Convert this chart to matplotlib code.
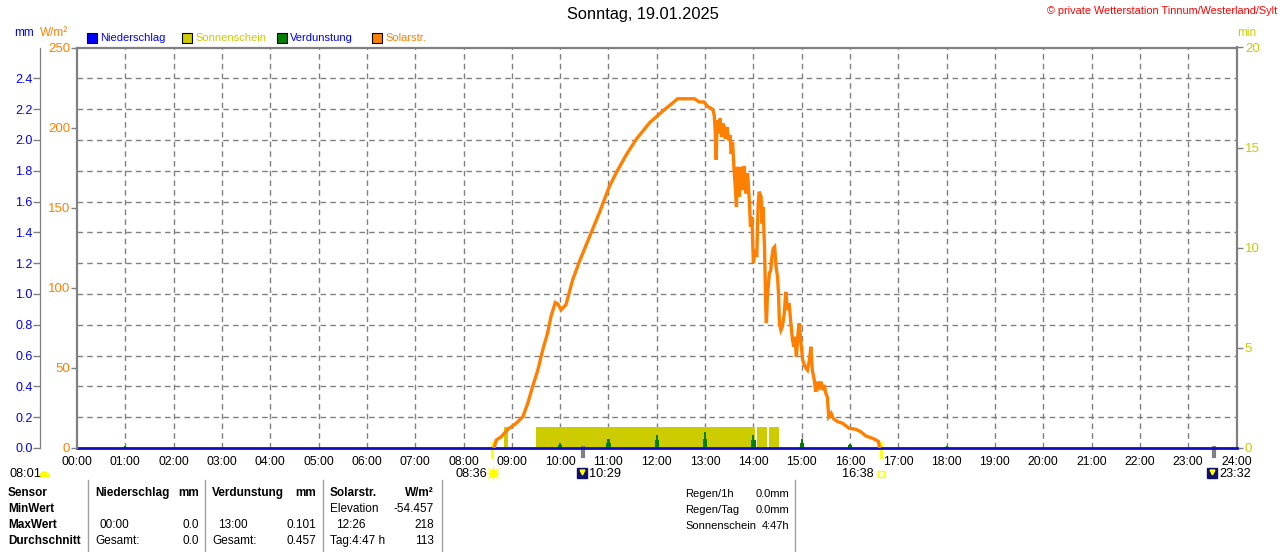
import matplotlib
matplotlib.use("Agg")
import matplotlib.pyplot as plt
import matplotlib.transforms as mtrans
from matplotlib.patches import Wedge

plt.rcParams['font.family'] = ['Liberation Sans', 'DejaVu Sans']
plt.rcParams['font.size'] = 8

# --- Daten ---
# Solarstrahlung W/m² (Stunde, Wert)
solar_t = [8.63, 8.66, 8.68, 8.78, 8.92, 9.09, 9.23, 9.33, 9.43, 9.54, 9.64, 9.74, 9.81,
           9.90, 9.95, 10.02, 10.12, 10.26, 10.40, 10.61, 10.81, 11.02, 11.16, 11.37,
           11.57, 11.85, 12.12, 12.33, 12.43, 12.78, 12.88, 12.98, 13.05, 13.16, 13.19,
           13.21, 13.23, 13.25, 13.28, 13.31, 13.35, 13.38, 13.42, 13.45, 13.49, 13.52,
           13.54, 13.57, 13.60, 13.63, 13.65, 13.67, 13.71, 13.74, 13.78, 13.81, 13.85,
           13.88, 13.92, 13.94, 13.97, 14.00, 14.04, 14.07, 14.10, 14.12, 14.16, 14.18,
           14.20, 14.23, 14.26, 14.27, 14.29, 14.33, 14.36, 14.38, 14.41, 14.44, 14.47,
           14.50, 14.52, 14.54, 14.57, 14.60, 14.64, 14.67, 14.71, 14.74, 14.77, 14.81,
           14.84, 14.86, 14.89, 14.93, 14.95, 14.98, 15.02, 15.07, 15.12, 15.16, 15.19,
           15.22, 15.26, 15.29, 15.33, 15.36, 15.40, 15.43, 15.47, 15.50, 15.53, 15.56,
           15.61, 15.65, 15.74, 15.85, 15.98, 16.12, 16.22, 16.33, 16.47, 16.54, 16.59,
           16.61]
solar_v = [0, 3, 5, 7, 11.7, 15.4, 19.6, 27.9, 38.3, 48.8, 61.3, 71.7, 82,
           90.8, 90, 86.3, 89.4, 105, 116.5, 132, 146.7, 163.3, 171.7, 183.1,
           192.5, 203, 210.2, 215.4, 218, 218, 216, 216, 213.3, 211.3, 207.7,
           198, 180, 204.6, 196.4, 205.7, 194.2, 202.5, 193.2, 200.4, 192, 195.3,
           183.6, 191, 173.4, 161, 150.5, 175.5, 156.8, 175.5, 161, 176, 158.9,
           171.4, 152.7, 138, 144.3, 115.6, 123.5, 119.3, 152.7, 160, 156.8, 140.2,
           150.5, 125.6, 84, 78, 94.6, 109, 111, 118.3, 124.6, 125.6, 113.1,
           106.9, 96.5, 77.8, 73.6, 75.7, 84, 97.5, 86.1, 90.3, 79.9, 67.4,
           63.3, 69.4, 57, 73.6, 77.8, 67.4, 54.9, 50.7, 48.7, 54.9, 63.2,
           48.7, 42.4, 35.1, 41.4, 38.2, 41.4, 36.2, 39.3, 34.1, 32, 19.5,
           21.7, 18.5, 16.5, 15.4, 12.3, 11.7, 10.2, 7.5, 6, 5, 4,
           0]

# Sonnenschein (min) - Intervalle
sun_start = [8.83, 9.50, 14.07, 14.33]
sun_end = [8.93, 14.04, 14.28, 14.54]
sun_min = [1.07, 1.07, 1.07, 1.07]

# Verdunstung mm
evap_t = [1, 10, 11, 12, 13, 14, 15, 16, 18]
evap_v = [0.015, 0.034, 0.056, 0.086, 0.101, 0.086, 0.056, 0.028, 0.015]

# Niederschlag mm
rain_t = [0, 24]
rain_v = [0.0, 0.0]

hours = list(range(25))
hour_labels = ["%02d:00" % h for h in hours]
mm_ticks = [0.0, 0.2, 0.4, 0.6, 0.8, 1.0, 1.2, 1.4, 1.6, 1.8, 2.0, 2.2, 2.4]
w_ticks = [0, 50, 100, 150, 200, 250]
min_ticks = [0, 5, 10, 15, 20]

sunrise, sunset = 8.6, 16.633
moon_events = [10.483, 23.533]

W, H = 1280, 552
GRAY = '#808080'
ORANGE = '#ff8000'
YELLOW = '#cccc00'
BLUE = '#0000ff'
GREEN = '#008000'

fig = plt.figure(figsize=(12.8, 5.52), dpi=100)
rect = [77 / W, 1 - 448 / H, (1236.5 - 77) / W, (448 - 47.5) / H]

ax_min = fig.add_axes(rect)
ax_mm = ax_min.twinx()
ax_w = ax_min.twinx()
ax_min.set_zorder(1)
ax_mm.set_zorder(2)
ax_w.set_zorder(3)
ax_mm.patch.set_visible(False)
ax_w.patch.set_visible(False)

ax_min.set_xlim(0, 24)
ax_min.set_ylim(0, 20)
ax_mm.set_ylim(0, 2.6)
ax_w.set_ylim(0, 250)

# Gitter
ax_min.set_xticks(hours)
ax_min.set_xticklabels(hour_labels)
ax_min.tick_params(axis='x', length=0, pad=6, labelsize=8.8)
for h in hours[1:-1]:
    ax_min.axvline(h, color=GRAY, lw=1, ls=(0, (4, 3)), zorder=0)
for v in mm_ticks[1:]:
    ax_mm.axhline(v, color=GRAY, lw=1, ls=(0, (4, 3)), zorder=0)

# Sonnenschein
ax_min.bar(sun_start, sun_min, width=[e - s for s, e in zip(sun_start, sun_end)],
           align='edge', color=YELLOW, lw=0, zorder=2)
ax_min.yaxis.tick_right()
ax_min.set_yticks(min_ticks)
ax_min.tick_params(axis='y', colors=GRAY, labelcolor=YELLOW, length=4, width=1,
                   pad=2, labelsize=9.5)

# Verdunstung + Niederschlag
ax_mm.bar(evap_t, evap_v, width=0.045, color=GREEN, lw=0, zorder=3)
ax_mm.bar(evap_t, [v * 0.6 for v in evap_v], width=0.09, color=GREEN, lw=0, zorder=3)
ax_mm.plot(rain_t, rain_v, color='#1010c0', lw=2, zorder=4, clip_on=False)
ax_mm.yaxis.tick_left()
ax_mm.set_yticks(mm_ticks)
ax_mm.set_yticklabels(["%.1f" % v for v in mm_ticks])
ax_mm.tick_params(axis='y', colors=GRAY, labelcolor=BLUE, length=5, width=1,
                  pad=0.5, labelsize=9)
ax_mm.spines['left'].set_position(('outward', 26.6))
ax_mm.spines['left'].set_color(GRAY)
ax_mm.spines['left'].set_linewidth(0.9)
for s in ['right', 'top', 'bottom']:
    ax_mm.spines[s].set_visible(False)

# Solarstrahlung
ax_w.plot(solar_t, solar_v, color=ORANGE, lw=2.4, solid_joinstyle='miter', zorder=5)
ax_w.yaxis.tick_left()
ax_w.set_yticks(w_ticks)
ax_w.tick_params(axis='y', colors=GRAY, labelcolor=ORANGE, length=4, width=1,
                 pad=1, labelsize=9.5)
for s in ['right', 'top', 'bottom']:
    ax_w.spines[s].set_visible(False)
ax_w.spines['left'].set_color(GRAY)
ax_w.spines['left'].set_linewidth(1.6)

for s in ['left', 'top', 'right', 'bottom']:
    ax_min.spines[s].set_color(GRAY)
    ax_min.spines[s].set_linewidth(1.6)
ax_min.spines['left'].set_visible(False)
ax_min.spines['bottom'].set_linewidth(1)

# Ereignisse unter der Achse (Sonnenauf-/untergang, Mond)
blend = mtrans.blended_transform_factory(ax_min.transData, mtrans.IdentityTransform())
for t in [sunrise, sunset]:
    ax_min.plot([t, t], [H - 443, H - 457], color='#ffff00', lw=2,
                transform=blend, clip_on=False, zorder=6)
for t in moon_events:
    ax_min.plot([t, t], [H - 448, H - 456], color=GRAY, lw=3,
                transform=blend, clip_on=False, zorder=6)

ax_min.plot([sunrise + 0.01], [H - 473], marker='o', ms=5, color='#ffff00',
            transform=blend, clip_on=False)
ax_min.plot([sunrise + 0.01], [H - 473], marker='+', ms=10, mew=1, color='#ffff00',
            transform=blend, clip_on=False)
ax_min.plot([sunrise + 0.01], [H - 473], marker='x', ms=7, mew=1, color='#ffff00',
            transform=blend, clip_on=False)
fig.text(487 / W, 1 - 474 / H, "08:36", ha='right', va='center', fontsize=9.2)
ax_min.plot([sunset + 0.0], [H - 474], marker='s', ms=4, mfc='white', mec='#ffff00',
            transform=blend, clip_on=False)
fig.text(874 / W, 1 - 474 / H, "16:38", ha='right', va='center', fontsize=9.2)
for t, lab in zip(moon_events, ["10:29", "23:32"]):
    ax_min.plot([t - 0.03], [H - 473], marker='s', ms=7.5, color='#101070',
                transform=blend, clip_on=False)
    ax_min.plot([t - 0.03], [H - 472], marker='v', ms=3.5, color='#ffff00',
                transform=blend, clip_on=False)
    ax_min.annotate(lab, xy=(t + 0.11, H - 474), xycoords=blend, ha='left',
                    va='center', fontsize=9.2, annotation_clip=False)

fig.text(9 / W, 1 - 474 / H, "08:01", ha='left', va='center', fontsize=9.2)
fig.patches.append(Wedge((44.5, H - 477), 5, 0, 180, color='#ffff00',
                         transform=mtrans.IdentityTransform(), figure=fig))

# Kopf
fig.text(643 / W, 1 - 15 / H, "Sonntag, 19.01.2025", ha='center', va='center',
         fontsize=11.8)
fig.text(1277 / W, 1 - 11 / H, "© private Wetterstation Tinnum/Westerland/Sylt",
         ha='right', va='center', fontsize=7.8, color='#ff0000')
fig.text(14 / W, 1 - 33 / H, "mm", ha='left', va='center', color=BLUE, fontsize=8.5)
fig.text(40 / W, 1 - 33 / H, "W/m²", ha='left', va='center', color=ORANGE, fontsize=8.5)
fig.text(1237 / W, 1 - 33 / H, "min", ha='left', va='center', color=YELLOW, fontsize=8.5)

legend_items = [("Niederschlag", BLUE, BLUE, 87), ("Sonnenschein", YELLOW, YELLOW, 182),
                ("Verdunstung", GREEN, BLUE, 277), ("Solarstr.", ORANGE, ORANGE, 372)]
for lab, fc, tc, px in legend_items:
    fig.patches.append(plt.Rectangle((px, H - 43), 10, 10, facecolor=fc, edgecolor='black',
                                     lw=0.8, transform=mtrans.IdentityTransform(),
                                     figure=fig))
    fig.text((px + 13) / W, 1 - 38 / H, lab, ha='left', va='center', color=tc,
             fontsize=8)

# Tabelle
for px in [88, 205, 323, 441.5, 795]:
    fig.add_artist(plt.Line2D([px / W, px / W], [0, 1 - 480 / H], color='#a0a0a0', lw=1))

rows_y = [493, 509, 525, 541]
def t(px, py, s, bold=False, ha='left', size=8.5):
    fig.text(px / W, 1 - py / H, s, ha=ha, va='center', fontsize=size,
             fontweight='bold' if bold else 'normal')

for s, py in zip(["Sensor", "MinWert", "MaxWert", "Durchschnitt"], rows_y):
    t(8, py, s, bold=True)
t(95, rows_y[0], "Niederschlag", bold=True)
t(199, rows_y[0], "mm", bold=True, ha='right')
t(100, rows_y[2], "00:00")
t(199, rows_y[2], "0.0", ha='right')
t(95, rows_y[3], "Gesamt:")
t(199, rows_y[3], "0.0", ha='right')
t(212, rows_y[0], "Verdunstung", bold=True)
t(316, rows_y[0], "mm", bold=True, ha='right')
t(218, rows_y[2], "13:00")
t(316, rows_y[2], "0.101", ha='right')
t(212, rows_y[3], "Gesamt:")
t(316, rows_y[3], "0.457", ha='right')
t(330, rows_y[0], "Solarstr.", bold=True)
t(434, rows_y[0], "W/m²", bold=True, ha='right')
t(330, rows_y[1], "Elevation")
t(434, rows_y[1], "-54.457", ha='right')
t(336, rows_y[2], "12:26")
t(434, rows_y[2], "218", ha='right')
t(330, rows_y[3], "Tag:4:47 h")
t(434, rows_y[3], "113", ha='right')

t(685, 494, "Regen/1h", size=8)
t(789, 494, "0.0mm", ha='right', size=8)
t(685, 510, "Regen/Tag", size=8)
t(789, 510, "0.0mm", ha='right', size=8)
t(685, 526, "Sonnenschein", size=8)
t(789, 526, "4:47h", ha='right', size=8)

fig.savefig("out.png", dpi=100)
